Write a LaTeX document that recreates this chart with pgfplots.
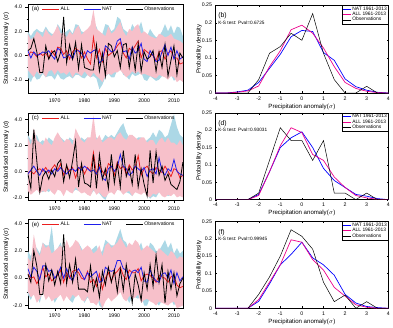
\documentclass[border=0pt]{standalone}
\usepackage{fontspec}
\setmainfont{Liberation Sans}
\usepackage{pgfplots}
\pgfplotsset{compat=1.18}
\usepackage{pgfplotstable}
\usepgfplotslibrary{fillbetween}

\definecolor{bandpink}{RGB}{247,192,202}
\definecolor{bandblue}{RGB}{172,216,230}
\definecolor{linered}{RGB}{235,30,30}
\definecolor{lineblue}{RGB}{30,30,235}

\pgfplotstableread{
year aU aL nU nL all nat obs
1961 1.8 -1.2 2.0 -1.8 0.0 0.4 0.4
1962 1.3 -1.5 1.6 -2.2 0.3 -0.2 0.6
1963 1.5 -1.8 2.0 -1.6 0.2 0.3 1.4
1964 2.0 -1.3 2.2 -2.0 -0.1 0.0 0.3
1965 1.8 -1.6 2.0 -1.9 0.2 0.1 -1.4
1966 1.5 -1.4 1.9 -1.5 0.0 0.3 -1.4
1967 2.2 -1.8 2.4 -1.8 0.2 0.2 0.8
1968 1.8 -1.3 2.0 -1.7 -0.2 0.4 -0.3
1969 1.6 -1.2 1.8 -1.7 0.4 0.0 0.2
1970 2.0 -1.6 1.8 -2.0 0.0 -0.3 0.4
1971 2.5 -1.2 2.6 -1.5 0.7 0.6 -0.5
1972 1.8 -1.5 2.2 -1.9 0.6 0.4 0.3
1973 1.9 -1.4 1.8 -2.0 0.1 -0.2 3.2
1974 1.5 -1.6 2.0 -1.8 0.4 -0.1 -0.6
1975 2.0 -1.3 2.2 -1.7 -0.3 0.1 0.9
1976 1.7 -1.8 1.8 -1.9 0.3 -0.3 -0.3
1977 2.2 -1.4 2.6 -1.6 0.6 0.4 1.1
1978 2.5 -1.5 2.5 -1.6 0.4 0.4 -1.1
1979 1.7 -1.7 2.0 -1.8 -0.2 0.2 0.9
1980 2.0 -1.3 1.9 -1.9 0.3 -0.2 -1.0
1981 2.2 -1.6 2.0 -1.6 -0.3 0.4 -1.1
1982 2.5 -1.8 2.2 -1.8 -0.7 0.2 -1.2
1983 3.8 -1.4 2.5 -1.7 1.5 0.4 -1.2
1984 2.2 -1.7 2.4 -1.9 -0.2 0.5 0.9
1985 2.0 -1.9 1.7 -2.8 0.5 -0.6 -1.3
1986 1.8 -2.2 1.8 -2.4 -0.5 -0.4 0.2
1987 1.6 -1.7 2.6 -1.8 0.6 0.8 -1.7
1988 2.4 -1.5 2.5 -1.5 0.0 0.6 1.0
1989 1.8 -1.6 2.0 -1.8 0.2 0.3 0.8
1990 2.0 -1.4 2.2 -1.8 0.4 0.4 -0.1
1991 2.4 -1.4 3.2 -1.2 0.8 1.2 0.4
1992 2.8 -1.2 3.0 -1.0 1.1 1.4 -1.0
1993 2.0 -1.5 2.2 -1.6 0.2 0.3 0.9
1994 1.6 -1.8 2.0 -1.7 -0.2 0.4 1.0
1995 2.2 -1.6 1.8 -2.0 0.6 -0.3 -1.0
1996 2.0 -1.3 2.6 -1.5 0.4 0.7 0.6
1997 2.4 -1.5 2.2 -1.7 0.8 0.2 -1.2
1998 2.6 -1.3 2.2 -1.6 1.2 0.4 1.0
1999 1.8 -1.6 2.8 -1.4 -0.2 1.0 -1.3
2000 2.0 -1.5 1.8 -2.0 0.5 -0.3 0.3
2001 1.8 -1.6 1.6 -2.1 0.3 -0.5 -0.3
2002 1.6 -1.7 2.2 -1.7 0.1 0.4 -0.1
2003 1.5 -1.8 1.8 -1.9 0.0 0.0 0.4
2004 1.4 -1.9 1.5 -2.1 -0.4 -0.5 -1.3
2005 1.8 -1.6 1.6 -2.0 0.3 -0.4 0.3
2006 1.7 -1.7 2.0 -1.7 0.4 0.3 -1.0
2007 1.5 -1.8 2.6 -1.5 -0.3 0.9 0.9
2008 1.6 -2.0 2.0 -1.8 0.2 0.0 -1.7
2009 1.8 -1.7 2.5 -1.6 0.4 0.7 -0.4
2010 1.4 -1.8 1.8 -2.1 -0.2 -0.3 0.8
2011 1.3 -2.2 2.4 -1.8 -0.2 0.4 -1.6
2012 1.2 -2.0 2.3 -2.0 -0.7 -0.3 0.2
2013 1.0 -2.2 1.6 -1.8 -0.6 -0.1 -0.2
}\tabA

\pgfplotstableread{
year aU aL nU nL all nat obs
1961 2.6 -1.5 2.8 -1.4 -0.1 -0.2 -0.2
1962 2.0 -1.8 2.4 -1.6 0.0 0.1 -1.3
1963 3.3 -1.6 2.6 -1.4 -0.2 0.4 3.2
1964 2.4 -1.4 2.8 -1.2 0.1 0.0 0.8
1965 2.2 -1.7 2.2 -1.5 0.2 -0.3 -1.6
1966 2.0 -1.5 2.4 -1.6 0.0 0.2 -0.4
1967 2.6 -1.6 2.2 -1.4 0.3 -0.1 0.0
1968 2.2 -1.3 2.6 -1.6 -0.1 0.1 -0.6
1969 2.0 -1.6 2.4 -1.3 0.2 -0.2 0.1
1970 2.6 -1.8 2.2 -1.6 0.5 0.2 -0.4
1971 3.0 -1.4 2.8 -1.2 0.1 0.0 0.6
1972 2.6 -1.5 2.6 -1.4 0.6 0.3 0.9
1973 2.2 -1.9 2.4 -1.6 -0.3 0.0 -0.8
1974 2.5 -1.4 2.2 -1.4 0.4 -0.2 0.5
1975 2.4 -1.6 2.6 -1.5 0.0 0.1 -0.5
1976 2.0 -1.7 2.4 -1.6 0.3 0.2 0.8
1977 3.3 -1.2 2.4 -1.4 -0.5 0.0 2.3
1978 2.8 -1.5 2.2 -1.5 0.2 0.3 -1.2
1979 2.4 -1.7 2.6 -1.6 0.4 0.1 0.6
1980 2.2 -1.6 2.4 -1.4 -0.2 0.4 -0.9
1981 2.6 -1.8 2.6 -1.6 0.3 0.2 -1.0
1982 2.6 -1.9 2.2 -1.8 0.0 0.0 -1.2
1983 4.3 -1.4 2.8 -1.5 1.45 0.1 1.3
1984 2.4 -1.8 2.6 -1.6 -0.2 -0.2 -1.3
1985 2.8 -1.6 2.4 -1.7 0.5 0.3 1.3
1986 2.2 -1.9 2.4 -2.0 0.0 -0.5 -0.6
1987 2.4 -2.0 2.8 -2.2 -0.3 -0.7 0.2
1988 2.6 -1.7 2.6 -1.6 0.6 0.2 -1.3
1989 2.6 -1.6 2.8 -1.5 0.4 0.4 1.3
1990 2.4 -1.8 2.6 -1.7 -0.3 0.0 -0.9
1991 2.8 -1.4 3.0 -1.4 0.7 0.3 0.6
1992 3.0 -1.5 3.4 -1.3 0.2 1.3 -1.2
1993 2.6 -1.8 3.7 -1.5 0.4 0.4 1.6
1994 2.4 -1.6 3.0 -1.6 -0.2 0.2 -0.4
1995 2.8 -1.5 2.6 -1.7 0.5 -0.3 0.3
1996 2.8 -1.9 2.8 -1.9 0.1 -0.1 -1.0
1997 2.6 -1.6 2.4 -1.5 0.3 0.4 1.3
1998 2.4 -1.7 2.6 -1.6 1.2 0.2 -1.2
1999 2.6 -1.8 2.6 -1.7 -0.3 0.0 0.2
2000 2.6 -1.6 2.2 -1.4 0.2 0.3 -1.0
2001 2.2 -1.9 2.4 -1.8 0.4 -0.4 -1.9
2002 2.4 -2.0 2.6 -2.1 0.0 0.1 1.6
2003 2.4 -1.7 3.0 -1.9 -0.2 0.2 -0.9
2004 2.0 -1.8 2.6 -2.0 0.3 -0.2 1.5
2005 2.4 -1.6 3.2 -1.6 0.1 1.05 -0.3
2006 2.6 -1.9 3.0 -1.5 -0.1 0.0 0.4
2007 2.2 -2.0 2.6 -1.7 0.4 -0.3 -0.7
2008 2.6 -1.8 2.8 -1.9 0.0 0.2 -0.2
2009 2.2 -1.9 3.6 -1.8 -0.4 0.0 -1.0
2010 2.2 -1.7 4.4 -1.4 0.2 0.9 -1.2
2011 2.0 -2.0 3.4 -1.8 0.1 0.0 -1.4
2012 2.4 -1.9 2.8 -1.6 -0.5 -0.2 -0.8
2013 2.0 -2.0 2.6 -1.7 -0.3 -0.3 0.7
}\tabC

\pgfplotstableread{
year aU aL nU nL all nat obs
1961 1.5 -1.0 2.0 -1.2 0.3 0.7 0.3
1962 1.2 -1.4 1.6 -1.6 0.0 0.1 -0.3
1963 3.2 -1.2 2.4 -1.0 0.1 0.8 2.0
1964 2.0 -1.8 2.2 -1.3 -0.4 0.5 0.9
1965 1.6 -1.5 1.8 -1.8 0.0 -0.1 -1.2
1966 2.6 -1.0 2.6 -0.9 0.8 0.9 -1.2
1967 2.2 -1.6 2.4 -1.0 0.1 0.9 1.0
1968 2.4 -1.3 2.4 -1.3 0.3 0.5 -0.2
1969 1.8 -1.7 3.8 -1.2 -0.2 0.6 0.6
1970 2.0 -1.5 1.8 -1.8 0.0 0.0 -0.5
1971 2.2 -1.4 2.2 -1.4 0.2 0.3 0.5
1972 2.4 -1.2 2.6 -1.0 0.6 0.8 -0.4
1973 2.0 -1.7 1.8 -1.6 -0.3 0.0 3.2
1974 2.8 -1.3 2.4 -1.2 0.4 0.7 -0.4
1975 2.2 -1.6 2.0 -1.6 0.0 0.1 1.0
1976 2.4 -1.2 1.8 -1.8 0.5 -0.2 -0.3
1977 2.8 -1.4 2.2 -1.3 0.6 0.4 1.4
1978 2.6 -1.2 2.6 -1.0 0.4 0.7 -0.8
1979 2.0 -1.6 2.2 -1.4 0.0 0.3 -0.8
1980 2.2 -1.7 1.8 -1.8 -0.1 -0.1 -0.8
1981 2.4 -1.3 2.2 -1.4 0.5 0.4 -1.0
1982 2.2 -1.8 2.0 -1.6 -0.3 0.1 0.9
1983 1.8 -1.8 2.2 -1.5 -0.1 0.3 -0.9
1984 2.0 -2.0 2.4 -1.3 -0.6 0.5 0.0
1985 2.4 -1.6 1.8 -2.0 0.3 -0.3 -1.4
1986 1.6 -2.2 2.0 -2.2 -0.8 -0.2 0.5
1987 2.4 -1.7 2.8 -1.4 0.0 0.8 -0.5
1988 2.6 -1.4 2.6 -1.2 0.4 0.6 0.8
1989 2.2 -1.7 2.4 -1.4 -0.2 0.5 -0.3
1990 2.4 -1.5 2.4 -1.3 0.3 0.6 0.6
1991 2.6 -1.3 3.0 -0.8 0.5 1.3 -1.0
1992 3.0 -1.0 3.6 -0.8 0.8 1.3 0.7
1993 2.6 -1.5 2.8 -1.2 0.2 0.7 -0.9
1994 2.2 -1.7 2.6 -1.4 -0.1 0.6 1.0
1995 2.6 -1.3 2.0 -1.8 0.6 0.0 -0.3
1996 2.4 -1.5 2.4 -1.4 0.4 0.5 -1.8
1997 2.8 -1.4 2.6 -1.4 0.4 0.6 0.3
1998 2.6 -1.2 2.2 -1.5 0.7 0.4 -0.5
1999 2.0 -1.8 2.6 -1.2 -0.2 0.8 -1.6
2000 2.2 -1.6 1.8 -2.0 0.2 -0.2 0.4
2001 2.4 -1.5 1.8 -2.0 0.3 -0.3 -0.8
2002 2.2 -1.7 2.6 -1.4 0.2 0.6 1.0
2003 2.0 -1.8 2.4 -1.6 0.0 0.1 -0.6
2004 1.8 -2.0 2.0 -1.8 -0.3 -0.2 1.7
2005 2.2 -1.7 2.0 -2.0 0.2 -0.3 -0.3
2006 2.0 -1.8 2.4 -1.6 0.1 0.3 1.0
2007 1.8 -1.9 2.8 -1.4 0.0 0.4 -1.8
2008 1.6 -2.0 2.2 -1.8 -0.3 0.0 0.5
2009 2.0 -1.8 2.6 -1.5 0.1 0.6 -0.8
2010 1.8 -1.7 1.8 -2.0 0.2 -0.4 0.4
2011 1.4 -2.2 2.2 -1.6 -0.5 0.4 -1.3
2012 1.6 -2.1 1.8 -1.9 -0.7 -0.2 -0.4
2013 1.5 -2.0 2.0 -1.7 -0.6 0.1 0.0
}\tabE

\pgfplotstableread{
x nat all obs
-4.0 0 0 0
-3.5 0 0 0
-3.0 0.003 0.002 0
-2.5 0.008 0.006 0
-2.0 0.030 0.020 0.038
-1.5 0.070 0.075 0.113
-1.0 0.110 0.120 0.132
-0.5 0.160 0.180 0.170
0.0 0.178 0.193 0.150
0.5 0.175 0.170 0.226
1.0 0.115 0.128 0.113
1.5 0.093 0.075 0.038
2.0 0.040 0.030 0
2.5 0.018 0.013 0
3.0 0.008 0.005 0.019
3.5 0.002 0.001 0
4.0 0 0 0
}\pdfB

\pgfplotstableread{
x nat all obs
-4.0 0 0 0
-3.5 0 0 0
-3.0 0 0 0
-2.5 0 0 0
-2.0 0.015 0.012 0.019
-1.5 0.080 0.080 0.113
-1.0 0.150 0.155 0.207
-0.5 0.178 0.207 0.170
0.0 0.195 0.193 0.170
0.5 0.150 0.130 0.113
1.0 0.090 0.113 0.170
1.5 0.055 0.065 0.019
2.0 0.035 0.035 0.019
2.5 0.015 0.012 0
3.0 0.010 0.005 0.019
3.5 0.003 0.001 0
4.0 0 0 0
}\pdfD

\pgfplotstableread{
x nat all obs
-4.0 0 0 0
-3.5 0 0 0
-3.0 0 0 0
-2.5 0 0 0
-2.0 0.020 0.025 0.040
-1.5 0.070 0.075 0.090
-1.0 0.125 0.125 0.150
-0.5 0.155 0.197 0.226
0.0 0.190 0.190 0.207
0.5 0.145 0.140 0.170
1.0 0.125 0.110 0.075
1.5 0.095 0.060 0.019
2.0 0.040 0.035 0.038
2.5 0.015 0.010 0
3.0 0.005 0.003 0.019
3.5 0.002 0 0
4.0 0 0 0
}\pdfF

\pgfplotsset{
  leftpanel/.style={
    scale only axis, width=157bp,
    xmin=1961, xmax=2013,
    xtick={1970,1980,1990,2000,2010},
    minor x tick num=4,
    ytick={-2,0,2,4},
    minor y tick num=1,
    tick align=outside, tick pos=left,
    major tick length=2.5bp, minor tick length=1.3bp,
    every tick/.style={black, line width=0.4bp},
    axis line style={line width=0.5bp},
    /pgf/number format/assume math mode=true,
    xticklabel style={font=\fontsize{5.3}{6}\selectfont, /pgf/number format/1000 sep={}},
    yticklabel style={font=\fontsize{5.3}{6}\selectfont, /pgf/number format/.cd, fixed, fixed zerofill, precision=1},
    ylabel={Standardised anomaly (σ)},
    every axis y label/.style={at={(axis description cs:-0.14,0.5)}, rotate=90, anchor=center, font=\fontsize{6.3}{7}\selectfont},
    legend columns=3,
    legend style={draw=none, fill=none, at={(axis description cs:0.09,0.94)}, anchor=west,
      font=\fontsize{5.2}{6}\selectfont, inner sep=0pt,
      nodes={inner sep=1bp},
      /tikz/every even column/.append style={column sep=13bp}},
    legend image code/.code={\draw[##1, line width=0.8bp] (0bp,0bp) -- (17bp,0bp);},
  },
  rightpanel/.style={
    scale only axis, width=175bp,
    xmin=-4, xmax=4, ymin=0, ymax=0.25,
    xtick={-4,-3,-2,-1,0,1,2,3,4},
    ytick={0,0.05,0.1,0.15,0.2,0.25},
    yticklabels={0,0.05,0.1,0.15,0.2,0.25},
    tick align=inside, tick pos=both,
    major tick length=1.8bp,
    every tick/.style={black, line width=0.3bp},
    axis line style={line width=0.4bp},
    /pgf/number format/assume math mode=true,
    ticklabel style={font=\fontsize{5.3}{6}\selectfont},
    xlabel={Precipitation anomaly($\sigma$)},
    ylabel={Probability density},
    every axis y label/.style={at={(axis description cs:-0.095,0.5)}, rotate=90, anchor=center, font=\fontsize{6.2}{7}\selectfont},
    every axis x label/.style={at={(axis description cs:0.5,-0.155)}, anchor=center, font=\fontsize{6.2}{7}\selectfont},
    legend cell align=left,
    legend style={at={(axis description cs:1,1)}, anchor=north east, draw=black, line width=0.3bp,
      font=\fontsize{5}{5.5}\selectfont, inner sep=0.6bp, row sep=-1.2bp,
      nodes={inner sep=0.8bp}},
    legend image code/.code={\draw[##1] (0bp,0bp) -- (8bp,0bp);},
  },
}

\begin{document}
\begin{tikzpicture}

% ---------------- (a)
\begin{axis}[leftpanel, at={(27bp,234bp)}, anchor=south west, height=90bp, ymin=-3.1, ymax=4.25]
 \addplot[name path=nuA, draw=none, forget plot] table[x=year,y=nU]{\tabA};
 \addplot[name path=nlA, draw=none, forget plot] table[x=year,y=nL]{\tabA};
 \addplot[fill=bandblue, draw=none, forget plot] fill between[of=nuA and nlA];
 \addplot[name path=auA, draw=none, forget plot] table[x=year,y=aU]{\tabA};
 \addplot[name path=alA, draw=none, forget plot] table[x=year,y=aL]{\tabA};
 \addplot[fill=bandpink, draw=none, forget plot] fill between[of=auA and alA];
 \addplot[linered, line width=0.8bp] table[x=year,y=all]{\tabA};
 \addplot[lineblue, line width=0.8bp] table[x=year,y=nat]{\tabA};
 \addplot[black, line width=0.8bp] table[x=year,y=obs]{\tabA};
 \legend{ALL,NAT,Observations}
 \node[anchor=west, font=\fontsize{6}{7}\selectfont, inner sep=0pt] at (rel axis cs:0.025,0.94) {(a)};
\end{axis}

% ---------------- (c)
\begin{axis}[leftpanel, at={(27bp,125bp)}, anchor=south west, height=89bp, ymin=-2.25, ymax=4.5]
 \addplot[name path=nuC, draw=none, forget plot] table[x=year,y=nU]{\tabC};
 \addplot[name path=nlC, draw=none, forget plot] table[x=year,y=nL]{\tabC};
 \addplot[fill=bandblue, draw=none, forget plot] fill between[of=nuC and nlC];
 \addplot[name path=auC, draw=none, forget plot] table[x=year,y=aU]{\tabC};
 \addplot[name path=alC, draw=none, forget plot] table[x=year,y=aL]{\tabC};
 \addplot[fill=bandpink, draw=none, forget plot] fill between[of=auC and alC];
 \addplot[linered, line width=0.8bp] table[x=year,y=all]{\tabC};
 \addplot[lineblue, line width=0.8bp] table[x=year,y=nat]{\tabC};
 \addplot[black, line width=0.8bp] table[x=year,y=obs]{\tabC};
 \legend{ALL,NAT,Observations}
 \node[anchor=west, font=\fontsize{6}{7}\selectfont, inner sep=0pt] at (rel axis cs:0.025,0.94) {(c)};
\end{axis}

% ---------------- (e)
\begin{axis}[leftpanel, at={(27bp,16bp)}, anchor=south west, height=90bp, ymin=-2.2, ymax=4.3]
 \addplot[name path=nuE, draw=none, forget plot] table[x=year,y=nU]{\tabE};
 \addplot[name path=nlE, draw=none, forget plot] table[x=year,y=nL]{\tabE};
 \addplot[fill=bandblue, draw=none, forget plot] fill between[of=nuE and nlE];
 \addplot[name path=auE, draw=none, forget plot] table[x=year,y=aU]{\tabE};
 \addplot[name path=alE, draw=none, forget plot] table[x=year,y=aL]{\tabE};
 \addplot[fill=bandpink, draw=none, forget plot] fill between[of=auE and alE];
 \addplot[linered, line width=0.8bp] table[x=year,y=all]{\tabE};
 \addplot[lineblue, line width=0.8bp] table[x=year,y=nat]{\tabE};
 \addplot[black, line width=0.8bp] table[x=year,y=obs]{\tabE};
 \legend{ALL,NAT,Observations}
 \node[anchor=west, font=\fontsize{6}{7}\selectfont, inner sep=0pt] at (rel axis cs:0.025,0.94) {(e)};
\end{axis}

% ---------------- (b)
\begin{axis}[rightpanel, at={(217bp,234bp)}, anchor=south west, height=89bp]
 \addplot[blue, line width=0.7bp] table[x=x,y=nat]{\pdfB};
 \addplot[magenta, line width=0.7bp] table[x=x,y=all]{\pdfB};
 \addplot[black, line width=0.5bp] table[x=x,y=obs]{\pdfB};
 \legend{NAT 1961-2013, ALL 1961-2013, Observations}
 \node[anchor=west, font=\fontsize{7}{8}\selectfont, inner sep=0pt] at (rel axis cs:0.015,0.875) {(b)};
 \node[anchor=west, font=\fontsize{4.8}{5.5}\selectfont, inner sep=0pt] at (rel axis cs:0.015,0.80) {K-S test: Pval=0.6725};
\end{axis}

% ---------------- (d)
\begin{axis}[rightpanel, at={(217bp,126bp)}, anchor=south west, height=88bp]
 \addplot[blue, line width=0.7bp] table[x=x,y=nat]{\pdfD};
 \addplot[magenta, line width=0.7bp] table[x=x,y=all]{\pdfD};
 \addplot[black, line width=0.5bp] table[x=x,y=obs]{\pdfD};
 \legend{NAT 1961-2013, ALL 1961-2013, Observations}
 \node[anchor=west, font=\fontsize{7}{8}\selectfont, inner sep=0pt] at (rel axis cs:0.015,0.875) {(d)};
 \node[anchor=west, font=\fontsize{4.8}{5.5}\selectfont, inner sep=0pt] at (rel axis cs:0.015,0.80) {K-S test: Pval=0.93031};
\end{axis}

% ---------------- (f)
\begin{axis}[rightpanel, at={(217bp,16bp)}, anchor=south west, height=88bp]
 \addplot[blue, line width=0.7bp] table[x=x,y=nat]{\pdfF};
 \addplot[magenta, line width=0.7bp] table[x=x,y=all]{\pdfF};
 \addplot[black, line width=0.5bp] table[x=x,y=obs]{\pdfF};
 \legend{NAT 1961-2013, ALL 1961-2013, Observations}
 \node[anchor=west, font=\fontsize{7}{8}\selectfont, inner sep=0pt] at (rel axis cs:0.015,0.875) {(f)};
 \node[anchor=west, font=\fontsize{4.8}{5.5}\selectfont, inner sep=0pt] at (rel axis cs:0.015,0.80) {K-S test: Pval=0.99945};
\end{axis}

\path (0bp,0bp) rectangle (393bp,325bp);
\end{tikzpicture}
\end{document}
